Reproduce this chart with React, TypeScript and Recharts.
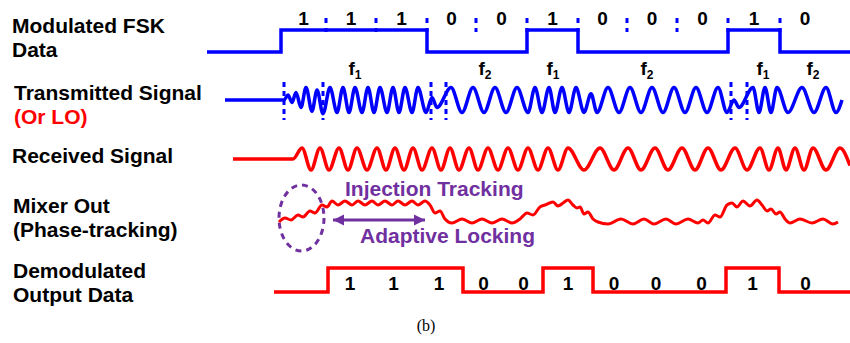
import React from 'react';
import { ComposedChart, Line, XAxis, YAxis, ReferenceLine, ReferenceArea } from 'recharts';

// Time axis is in ns, one bit ≈ 50 ns, t = 0 at the first bit.
const T_MIN = -75;
const T_MAX = 575;
const H = 343;

const BLUE = '#0000ff';
const RED = '#ff0000';
const PURPLE = '#7030a0';
const SANS = '"Liberation Sans", Arial, Helvetica, sans-serif';

const bits = [1, 1, 1, 0, 0, 1, 0, 0, 0, 1, 0];

// bit cell edges of the FSK data (ns)
const fskBounds = [6, 51, 101, 152, 201, 252, 303, 352, 402, 453, 505, 555];
const fskStart = -68;

// bit cell edges of the demodulated output (ns)
const demodBounds = [53, 97, 140, 188, 229, 268, 318, 360, 402, 451, 504, 557];
const demodStart = -1;

// f1 / f2 tone labels above the carrier
const toneT = [80, 210, 278, 372, 488, 538];
const toneIdx = [1, 2, 1, 2, 1, 2];

// phase transients marked on the transmitted carrier (ns)
const txMarkers = [9, 48, 156, 171, 456, 472];

// transmitted carrier, extrema as [ns, normalised amplitude]
const txWave: [number, number][] = [
  [-50, 0], [9, 0], [13, 0.4], [17, -0.2], [21, 0.6], [26, -0.6], [31, 1], [37, -0.9], [42, 0.8], [48, -1.1],
  [55, 1], [62, -1], [68, 1], [74, -1], [80, 1], [87, -1], [93, 1], [99, -1], [105, 1], [112, -1],
  [118, 1], [124, -1], [130, 1], [137, -1], [143, 1],
  [151, -1], [157, 0.2], [162, -0.6],
  [176, 1], [187, -1], [198, 1], [209, -1], [220, 1], [231, -1], [242, 1], [253, -1],
  [260, 1], [267, -1], [274, 1], [280, -1], [287, 1], [294, -1], [301, 1],
  [309, -1], [316, 0.5], [322, -1],
  [333, 1], [344, -1], [355, 1], [366, -1], [377, 1], [388, -1], [399, 1], [410, -1], [421, 1], [432, -1], [443, 1],
  [452, -1], [459, 0], [464, -0.6],
  [478, 1], [484, -1], [490, 1], [496, -1], [502, 1],
  [513, -1], [527, 1], [539, -1], [551, 1], [561, -1], [567, 0],
];

// received signal extrema
const rxWave: [number, number][] = [
  [-42, 0], [18, 0], [27, 1], [36, -1], [45, 1], [54, -1], [64, 1], [73, -1], [82, 1], [92, -1],
  [102, 1], [111, -1], [120, 1], [129, -1], [138, 1], [147, -1], [157, 1], [166, -1], [175, 1], [184, -1],
  [194, 1], [203, -1], [213, 1], [223, -1], [233, 1], [243, -1], [253, 1], [263, -1], [273, 1], [283, -1],
  [293, 1], [309, -1], [325, 1], [339, -1], [353, 1], [366, -1], [380, 1], [393, -1], [407, 1], [420, -1],
  [433, 1], [446, -1], [460, 1], [472, -1], [485, 1], [494, -1], [503, 1], [511, -1], [520, 1], [529, -1],
  [538, 1], [551, -1], [565, 1], [575, -0.6],
];

// mixer output (phase tracking), sampled along the trace
const mixWave: [number, number][] = [
  [4, 0], [10, 0.4], [16, 0.2], [23, 0.7], [28, 0.5], [35, 1.1], [40, 0.9], [47, 1.7], [52, 1.5],
  [57, 2.1], [63, 1.7], [70, 2.1], [77, 1.7], [83, 2.1], [90, 1.7], [97, 2.1], [103, 1.7], [110, 2.1],
  [117, 1.7], [123, 2.1], [130, 1.7], [137, 2.1], [143, 1.7], [150, 2.1], [155, 1.7],
  [160, 0.9], [165, 1.1], [170, 0.3], [177, -0.1], [187, 0.3], [197, -0.1], [207, 0.3], [217, -0.1],
  [227, 0.3], [237, -0.1], [245, 0.3], [252, 0.9], [258, 0.7], [265, 1.5], [270, 1.7], [278, 2.0],
  [283, 1.6], [288, 1.9], [293, 2.2], [298, 1.7], [302, 1.4], [305, 1.5], [309, 0.8], [313, 1.0],
  [318, 0.3], [323, 0], [333, -0.2], [346, 0.3], [358, -0.2], [369, 0.3], [379, -0.2], [391, 0.3],
  [401, -0.2], [413, 0.3], [423, -0.1], [428, 0.2], [433, -0.1], [440, 0.7], [445, 0.5], [452, 1.7],
  [457, 1.9], [462, 1.5], [468, 2.1], [475, 1.6], [482, 2.2], [487, 1.7], [492, 1.1], [496, 1.3],
  [501, 0.8], [505, 1.0], [510, 0.3], [515, -0.1], [525, 0.3], [537, -0.1], [548, 0.3], [558, -0.2], [563, 0],
];

// adaptive-locking span and the initial-lock window
const lockSpan = [58, 150];
const lockLevel = 0.2;
const lockWindowT = [4, 49];
const lockWindowV = [-2.9, 3.7];

// row placement: baseline pixel and pixels per unit
const ROW = {
  fsk: { y0: 52, s: 22 },
  tx: { y0: 100, s: 12.5 },
  rx: { y0: 159, s: 11 },
  mix: { y0: 222, s: 10 },
  demod: { y0: 292, s: 24 },
};
const dom = (r: { y0: number; s: number }) => [(r.y0 - H) / r.s, r.y0 / r.s];

const toWave = (w: [number, number][]) => w.map(([t, v]) => ({ t, v }));

const toSteps = (start: number, bounds: number[]) => [
  { t: start, v: 0 },
  ...bits.map((b, k) => ({ t: bounds[k], v: b })),
  { t: T_MAX, v: 0 },
];

const cellLabels = (bounds: number[], v: number) =>
  bits.map((b, k) => ({ t: (bounds[k] + bounds[k + 1]) / 2, v, text: String(b) }));

const renderBit = (p: any) => (
  <text key={`b${p.index}`} x={p.cx} y={p.cy} textAnchor="middle"
    fontFamily={SANS} fontWeight="bold" fontSize={19} fill="#000">
    {p.payload.text}
  </text>
);

const renderTone = (p: any) => (
  <text key={`f${p.index}`} x={p.cx} y={p.cy} textAnchor="middle"
    fontFamily={SANS} fontWeight="bold" fontSize={19} fill="#000">
    f<tspan dy={4} fontSize={12}>{p.payload.idx}</tspan>
  </text>
);

const renderArrowHead = (p: any) => {
  const dir = p.index === 0 ? 1 : -1;
  const { cx, cy } = p;
  return (
    <polygon key={`a${p.index}`} fill={PURPLE} stroke="none"
      points={`${cx},${cy} ${cx + dir * 11},${cy - 5.5} ${cx + dir * 11},${cy + 5.5}`} />
  );
};

const LeftLabel = ({ top, left, lines }: { top: number; left: number; lines: [string, string][] }) => (
  <div style={{
    position: 'absolute', top, left, fontFamily: SANS, fontWeight: 'bold',
    fontSize: 21, lineHeight: '24px', whiteSpace: 'pre',
  }}>
    {lines.map(([txt, col], i) => <div key={i} style={{ color: col }}>{txt}</div>)}
  </div>
);

export default function App() {
  const fskSteps = toSteps(fskStart, fskBounds);
  const demodSteps = toSteps(demodStart, demodBounds);
  const fskLabels = cellLabels(fskBounds, 1.227);
  const demodLabels = cellLabels(demodBounds, 0.1);
  const toneLabels = toneT.map((t, i) => ({ t, v: 2.0, idx: toneIdx[i] }));
  const arrow = lockSpan.map((t) => ({ t, v: lockLevel }));

  return (
    <div style={{ position: 'absolute', left: 0, top: 0, width: 850, height: H, background: '#fff', overflow: 'hidden' }}>
      <LeftLabel top={14} left={12} lines={[['Modulated FSK', '#000'], ['Data', '#000']]} />
      <LeftLabel top={81} left={14} lines={[['Transmitted Signal', '#000'], ['(Or LO)', RED]]} />
      <LeftLabel top={144} left={12} lines={[['Received Signal', '#000']]} />
      <LeftLabel top={194} left={13} lines={[['Mixer Out', '#000'], ['(Phase-tracking)', '#000']]} />
      <LeftLabel top={259} left={13} lines={[['Demodulated', '#000'], ['Output Data', '#000']]} />

      <div style={{ position: 'absolute', left: 200, top: 0 }}>
        <ComposedChart width={650} height={H} margin={{ top: 0, right: 0, bottom: 0, left: 0 }}>
          <XAxis type="number" dataKey="t" domain={[T_MIN, T_MAX]} hide allowDataOverflow />
          <YAxis yAxisId="fsk" type="number" domain={dom(ROW.fsk)} hide allowDataOverflow />
          <YAxis yAxisId="tx" type="number" domain={dom(ROW.tx)} hide allowDataOverflow />
          <YAxis yAxisId="rx" type="number" domain={dom(ROW.rx)} hide allowDataOverflow />
          <YAxis yAxisId="mix" type="number" domain={dom(ROW.mix)} hide allowDataOverflow />
          <YAxis yAxisId="demod" type="number" domain={dom(ROW.demod)} hide allowDataOverflow />

          {/* FSK data */}
          {fskBounds.slice(1, -1).map((t) => (
            <ReferenceLine key={`s${t}`} yAxisId="fsk" stroke={BLUE} strokeWidth={3} strokeDasharray="5 5"
              segment={[{ x: t, y: 1.545 }, { x: t, y: 0.909 }]} />
          ))}
          <Line data={fskSteps} dataKey="v" yAxisId="fsk" type="stepAfter" stroke={BLUE} strokeWidth={3.5}
            dot={false} activeDot={false} isAnimationActive={false} />
          <Line data={fskLabels} dataKey="v" yAxisId="fsk" stroke="none" dot={renderBit}
            activeDot={false} isAnimationActive={false} />

          {/* transmitted carrier */}
          {txMarkers.map((t) => (
            <ReferenceLine key={`m${t}`} yAxisId="tx" stroke={BLUE} strokeWidth={3} strokeDasharray="5 4"
              segment={[{ x: t, y: 1.44 }, { x: t, y: -1.6 }]} />
          ))}
          <Line data={toWave(txWave)} dataKey="v" yAxisId="tx" type="monotone" stroke={BLUE} strokeWidth={3.5}
            dot={false} activeDot={false} isAnimationActive={false} />
          <Line data={toneLabels} dataKey="v" yAxisId="tx" stroke="none" dot={renderTone}
            activeDot={false} isAnimationActive={false} />

          {/* received signal */}
          <Line data={toWave(rxWave)} dataKey="v" yAxisId="rx" type="monotone" stroke={RED} strokeWidth={3.5}
            dot={false} activeDot={false} isAnimationActive={false} />

          {/* mixer output */}
          <ReferenceArea yAxisId="mix" x1={lockWindowT[0]} x2={lockWindowT[1]} y1={lockWindowV[0]} y2={lockWindowV[1]}
            shape={(p: any) => (
              <ellipse cx={p.x + p.width / 2} cy={p.y + p.height / 2} rx={p.width / 2} ry={p.height / 2}
                fill="none" stroke={PURPLE} strokeWidth={3} strokeDasharray="6 5" />
            )} />
          <Line data={toWave(mixWave)} dataKey="v" yAxisId="mix" type="monotone" stroke={RED} strokeWidth={3}
            dot={false} activeDot={false} isAnimationActive={false} />
          <Line data={arrow} dataKey="v" yAxisId="mix" stroke={PURPLE} strokeWidth={3}
            dot={renderArrowHead} activeDot={false} isAnimationActive={false} />

          {/* demodulated output */}
          <Line data={demodSteps} dataKey="v" yAxisId="demod" type="stepAfter" stroke={RED} strokeWidth={3.5}
            dot={false} activeDot={false} isAnimationActive={false} />
          <Line data={demodLabels} dataKey="v" yAxisId="demod" stroke="none" dot={renderBit}
            activeDot={false} isAnimationActive={false} />
        </ComposedChart>
      </div>

      <div style={{ position: 'absolute', left: 345, top: 177, fontFamily: SANS, fontWeight: 'bold', fontSize: 21, lineHeight: '24px', color: PURPLE, whiteSpace: 'pre' }}>
        Injection Tracking
      </div>
      <div style={{ position: 'absolute', left: 360, top: 224, fontFamily: SANS, fontWeight: 'bold', fontSize: 21, lineHeight: '24px', color: PURPLE, whiteSpace: 'pre' }}>
        Adaptive Locking
      </div>
      <div style={{ position: 'absolute', left: 0, width: 852, top: 316, textAlign: 'center', fontFamily: '"Liberation Serif", "Times New Roman", serif', fontSize: 16, lineHeight: '20px' }}>
        (b)
      </div>
    </div>
  );
}
